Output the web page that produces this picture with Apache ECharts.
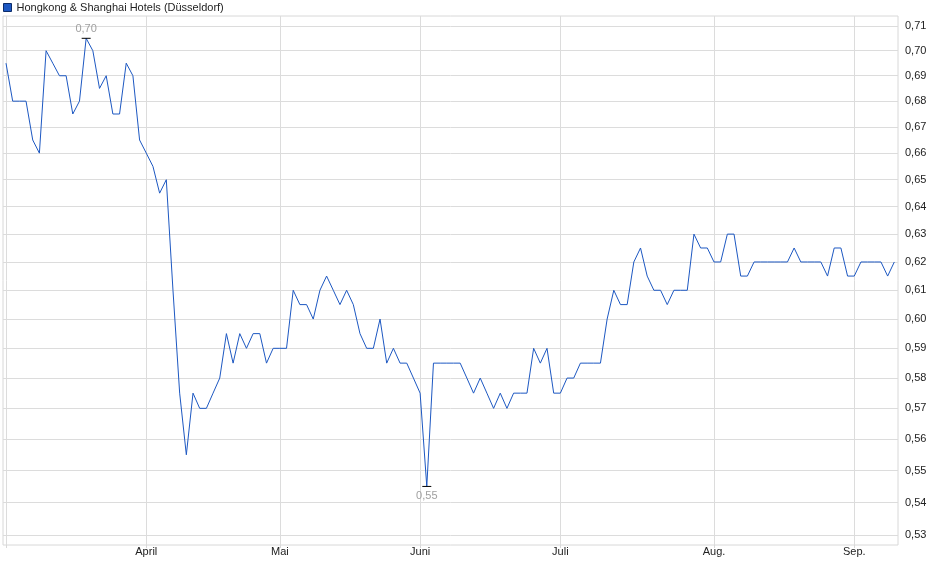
<!DOCTYPE html>
<html>
<head>
<meta charset="utf-8">
<script src="https://cdn.jsdelivr.net/npm/echarts@6/dist/echarts.min.js"></script>
<style>
html,body{margin:0;padding:0;background:#fff;}
#chart{width:940px;height:579px;}
</style>
</head>
<body>
<div id="chart"></div>
<script>
// ---- data ----
const seriesName = 'Hongkong & Shanghai Hotels (Düsseldorf)';
const startDate = '2025-03-03';
const endDate = '2025-09-09';
const holidays = ['2025-04-18', '2025-04-21', '2025-05-01'];
const monthNames = ['Jan.', 'Feb.', 'März', 'April', 'Mai', 'Juni', 'Juli', 'Aug.', 'Sep.', 'Okt.', 'Nov.', 'Dez.'];
const prices = [
  0.695, 0.68, 0.68, 0.68, 0.665, 0.66, 0.70, 0.695, 0.69, 0.69,
  0.675, 0.68, 0.705, 0.70, 0.685, 0.69, 0.675, 0.675, 0.695, 0.69,
  0.665, 0.66, 0.655, 0.645, 0.65, 0.61, 0.575, 0.555, 0.575, 0.57,
  0.57, 0.575, 0.58, 0.595, 0.585, 0.595, 0.59, 0.595, 0.595, 0.585,
  0.59, 0.59, 0.59, 0.61, 0.605, 0.605, 0.60, 0.61, 0.615, 0.61,
  0.605, 0.61, 0.605, 0.595, 0.59, 0.59, 0.60, 0.585, 0.59, 0.585,
  0.585, 0.58, 0.575, 0.545, 0.585, 0.585, 0.585, 0.585, 0.585, 0.58,
  0.575, 0.58, 0.575, 0.57, 0.575, 0.57, 0.575, 0.575, 0.575, 0.59,
  0.585, 0.59, 0.575, 0.575, 0.58, 0.58, 0.585, 0.585, 0.585, 0.585,
  0.60, 0.61, 0.605, 0.605, 0.62, 0.625, 0.615, 0.61, 0.61, 0.605,
  0.61, 0.61, 0.61, 0.63, 0.625, 0.625, 0.62, 0.62, 0.63, 0.63,
  0.615, 0.615, 0.62, 0.62, 0.62, 0.62, 0.62, 0.62, 0.625, 0.62,
  0.62, 0.62, 0.62, 0.615, 0.625, 0.625, 0.615, 0.615, 0.62, 0.62,
  0.62, 0.62, 0.615, 0.62
];
const yTicks = [0.53, 0.54, 0.55, 0.56, 0.57, 0.58, 0.59, 0.60, 0.61, 0.62,
                0.63, 0.64, 0.65, 0.66, 0.67, 0.68, 0.69, 0.70, 0.71];

// ---- trading calendar (weekdays without exchange holidays) ----
const dates = [];
for (let d = new Date(startDate + 'T00:00:00Z'); d <= new Date(endDate + 'T00:00:00Z'); d.setUTCDate(d.getUTCDate() + 1)) {
  const wd = d.getUTCDay();
  const s = d.toISOString().slice(0, 10);
  if (wd !== 0 && wd !== 6 && holidays.indexOf(s) < 0) dates.push(s);
}
const monthIdx = [];
const monthLbl = [];
dates.forEach((s, i) => {
  if (i > 0 && s.slice(5, 7) !== dates[i - 1].slice(5, 7)) {
    monthIdx.push(i);
    monthLbl.push(monthNames[parseInt(s.slice(5, 7), 10) - 1]);
  }
});
const seriesData = prices.map((v, i) => [i, v]);

const fmt = v => v.toFixed(2).replace('.', ',');
const FONT = '"Liberation Sans", Arial, sans-serif';

const chart = echarts.init(document.getElementById('chart'), null, {renderer: 'canvas'});
chart.setOption({
  animation: false,
  backgroundColor: '#fff',
  textStyle: {fontFamily: FONT},
  legend: {
    left: 3, top: 2, padding: 0,
    itemWidth: 8, itemHeight: 8, itemGap: 10, itemTextGap: 4,
    icon: 'rect',
    itemStyle: {borderColor: '#0c2c6a', borderWidth: 1},
    textStyle: {fontSize: 11, color: '#222', fontFamily: FONT},
    data: [seriesName]
  },
  grid: {
    left: 3, right: 42, top: 16, bottom: 34,
    show: true, borderColor: '#d8d8d8', borderWidth: 1,
    containLabel: false
  },
  xAxis: {
    type: 'value',
    min: -0.45, max: 133.55,
    axisLine: {show: false},
    axisTick: {show: true, length: 3, lineStyle: {color: '#d8d8d8'}, customValues: [0].concat(monthIdx)},
    axisLabel: {
      customValues: monthIdx,
      fontSize: 11, color: '#222', fontFamily: FONT, margin: 1,
      formatter: v => monthLbl[monthIdx.indexOf(v)] || ''
    },
    splitLine: {show: true, lineStyle: {color: '#dcdcdc', width: 1}}
  },
  yAxis: {
    type: 'log',
    logBase: 10,
    position: 'right',
    min: 0.52697, max: 0.71409,
    axisLine: {show: false},
    axisTick: {show: false, customValues: yTicks},
    axisLabel: {
      customValues: yTicks,
      fontSize: 11, color: '#222', fontFamily: FONT, margin: 7,
      formatter: v => fmt(v)
    },
    splitLine: {show: true, lineStyle: {color: '#dcdcdc', width: 1}}
  },
  series: [{
    name: seriesName,
    type: 'line',
    data: seriesData,
    showSymbol: false,
    symbol: 'none',
    color: '#1d58c2',
    lineStyle: {color: '#1d58c2', width: 1},
    markPoint: {
      symbol: 'rect',
      symbolSize: [9, 1],
      itemStyle: {color: '#000'},
      data: [
        {type: 'max', valueDim: 'y', label: {position: 'top', distance: 3}},
        {type: 'min', valueDim: 'y', label: {position: 'bottom', distance: 4}}
      ],
      label: {
        show: true, fontSize: 11, color: '#a0a0a0', fontFamily: FONT,
        formatter: p => fmt(p.value)
      }
    }
  }]
});
</script>
</body>
</html>
